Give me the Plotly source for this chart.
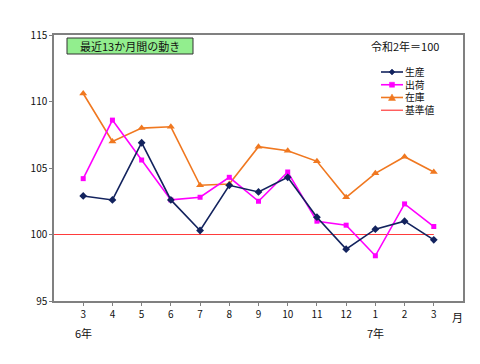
import plotly.graph_objects as go

months = ["3", "4", "5", "6", "7", "8", "9", "10", "11", "12", "1", "2", "3"]
production = [102.9, 102.6, 106.9, 102.6, 100.3, 103.7, 103.2, 104.3, 101.3, 98.9, 100.4, 101.0, 99.6]
shipments = [104.2, 108.6, 105.6, 102.6, 102.8, 104.3, 102.5, 104.7, 101.0, 100.7, 98.4, 102.3, 100.6]
inventory = [110.6, 107.0, 108.0, 108.1, 103.7, 103.8, 106.6, 106.3, 105.5, 102.8, 104.6, 105.85, 104.7]
base_value = 100
series_names = ["生産", "出荷", "在庫", "基準値"]
y_ticks = [95, 100, 105, 110, 115]

FONT = "Noto Sans CJK JP"
NAVY = "#13235e"
MAGENTA = "#ff00ff"
ORANGE = "#f07820"
RED = "#ff3b3b"

# page body adds 8px offset; figure is placed at (8, 8)
OFF = 8
W, H = 480 - OFF, 364 - OFF
PL, PR, PT, PB = 54, 463, 35, 301  # plot area in screen pixels
L, T = PL - OFF, PT - OFF
R, B = 480 - PR, 364 - PB
PW, PH = PR - PL, PB - PT


def px(x):
    return (x - PL) / PW


def py(y):
    return (PB - y) / PH


xs = list(range(len(months)))

fig = go.Figure()
fig.add_trace(go.Scatter(x=[-1] + xs, y=[base_value] * (len(xs) + 1), mode="lines",
                         line=dict(color=RED, width=1.2), name=series_names[3]))
fig.add_trace(go.Scatter(x=xs, y=inventory, mode="lines+markers", name=series_names[2],
                         line=dict(color=ORANGE, width=1.6),
                         marker=dict(symbol="triangle-up", size=7, color=ORANGE)))
fig.add_trace(go.Scatter(x=xs, y=shipments, mode="lines+markers", name=series_names[1],
                         line=dict(color=MAGENTA, width=1.6),
                         marker=dict(symbol="square", size=5, color=MAGENTA)))
fig.add_trace(go.Scatter(x=xs, y=production, mode="lines+markers", name=series_names[0],
                         line=dict(color=NAVY, width=1.6),
                         marker=dict(symbol="diamond", size=6, color=NAVY)))

shapes = []
annotations = []
TXT = dict(family=FONT, size=11, color="#111111")
LEG_SIZE = 9.8
LEG = dict(family=FONT, size=LEG_SIZE, color="#111111")

# title box
shapes.append(dict(type="rect", xref="paper", yref="paper",
                   x0=px(67), x1=px(193), y0=py(54), y1=py(38),
                   fillcolor="#92ee8e", line=dict(color="#333333", width=1)))
annotations.append(dict(text="最近13か月間の動き", xref="paper", yref="paper",
                        x=px(130), y=py(46), xanchor="center", yanchor="middle",
                        showarrow=False, font=TXT))
annotations.append(dict(text="令和2年＝100", xref="paper", yref="paper",
                        x=px(369), y=py(46), xanchor="left", yanchor="middle",
                        showarrow=False, font=TXT))

# manual legend
step = LEG_SIZE * 1.3
leg_top = 72
leg_colors = [NAVY, MAGENTA, ORANGE, RED]
for i, col in enumerate(leg_colors):
    yy = leg_top + i * step
    shapes.append(dict(type="line", xref="paper", yref="paper",
                       x0=px(381), x1=px(403), y0=py(yy), y1=py(yy),
                       line=dict(color=col, width=1.6 if i < 3 else 1.2)))
    cx = 392
    if i == 0:
        path = f"M {px(cx-3)},{py(yy)} L {px(cx)},{py(yy-3)} L {px(cx+3)},{py(yy)} L {px(cx)},{py(yy+3)} Z"
        shapes.append(dict(type="path", xref="paper", yref="paper", path=path,
                           fillcolor=col, line=dict(color=col, width=0.5)))
    elif i == 1:
        shapes.append(dict(type="rect", xref="paper", yref="paper",
                           x0=px(cx-2.5), x1=px(cx+2.5), y0=py(yy+2.5), y1=py(yy-2.5),
                           fillcolor=col, line=dict(color=col, width=0.5)))
    elif i == 2:
        path = f"M {px(cx-3.5)},{py(yy+3)} L {px(cx)},{py(yy-3.5)} L {px(cx+3.5)},{py(yy+3)} Z"
        shapes.append(dict(type="path", xref="paper", yref="paper", path=path,
                           fillcolor=col, line=dict(color=col, width=0.5)))
annotations.append(dict(text="<br>".join(series_names), xref="paper", yref="paper",
                        x=px(404), y=py(leg_top + 1.5 * step), xanchor="left",
                        yanchor="middle", align="left", showarrow=False,
                        font=LEG, borderpad=0))

# year / month labels
annotations.append(dict(text="6年", xref="x", yref="paper", x=0, y=py(333),
                        xanchor="center", yanchor="middle", showarrow=False, font=TXT))
annotations.append(dict(text="7年", xref="x", yref="paper", x=10, y=py(333),
                        xanchor="center", yanchor="middle", showarrow=False, font=TXT))
annotations.append(dict(text="月", xref="paper", yref="paper", x=px(457), y=py(317),
                        xanchor="center", yanchor="middle", showarrow=False, font=TXT))

fig.update_layout(
    width=W, height=H,
    margin=dict(l=L, r=R, t=T, b=B, autoexpand=False),
    paper_bgcolor="white", plot_bgcolor="white",
    showlegend=False,
    shapes=shapes, annotations=annotations,
    font=dict(family=FONT, size=10, color="#111111"),
    xaxis=dict(range=[-1, 13], tickvals=xs, ticktext=months, showgrid=False,
               zeroline=False, showline=True, linecolor="#808080", linewidth=1.5,
               mirror=True, ticks="outside", ticklen=3, tickcolor="#808080",
               tickfont=dict(family=FONT, size=10)),
    yaxis=dict(range=[95, 115], tickvals=y_ticks, showgrid=False, zeroline=False,
               showline=True, linecolor="#808080", linewidth=1.5, mirror=True,
               ticks="outside", ticklen=3, tickcolor="#808080",
               tickfont=dict(family=FONT, size=10)),
)

fig.write_html("out.html")
